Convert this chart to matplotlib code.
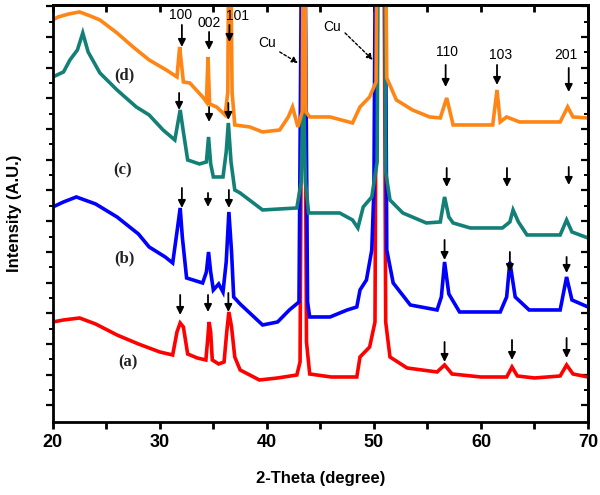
import matplotlib
matplotlib.use("Agg")
import matplotlib.pyplot as plt
from matplotlib.ticker import FixedLocator, MultipleLocator
import numpy as np

# ---- data (2-theta in degrees, intensity in arbitrary units) ----
a_pts = [(20, 100), (21, 102), (22.5, 104), (24, 98), (26, 87), (28, 78), (30, 70), (31.2, 67),
         (31.6, 90), (31.9, 99), (32.2, 95), (32.6, 68), (33.5, 64), (34.3, 62), (34.45, 80),
         (34.6, 100), (34.75, 90), (34.9, 62), (35.5, 58), (36.0, 60), (36.25, 90), (36.45, 110),
         (36.7, 95), (37.0, 65), (37.5, 52), (39.3, 42), (41, 44), (42.8, 47), (43.1, 60),
         (43.3, 500), (43.5, 500), (43.7, 80), (44.0, 48), (46, 45), (48.4, 45), (48.7, 65),
         (49.6, 75), (50.1, 100), (50.3, 600), (50.9, 600), (51.1, 100), (51.5, 65), (53.1, 54),
         (55.9, 50), (56.6, 57), (57.3, 48), (60, 45), (62.4, 45), (62.9, 55), (63.4, 46),
         (65, 44), (67.4, 46), (68.0, 57), (68.6, 48), (70, 45)]

b_pts = [(20, 215), (21, 220), (22.2, 225), (24, 218), (26, 205), (28, 188), (29, 175), (30.5, 165),
         (31.2, 159), (31.6, 190), (31.9, 214), (32.1, 185), (32.5, 144), (34.0, 139), (34.35, 150),
         (34.55, 170), (34.75, 150), (35.0, 132), (35.5, 138), (35.9, 130), (36.2, 160), (36.45, 210),
         (36.7, 170), (36.9, 125), (37.5, 118), (39.6, 97), (41, 100), (42.1, 112), (43.0, 120),
         (43.25, 500), (43.55, 500), (43.8, 120), (44, 105), (45.9, 105), (47.5, 112), (48.4, 115),
         (48.7, 132), (49.3, 142), (49.8, 172), (50.0, 232), (50.2, 600), (51.0, 600), (51.2, 172),
         (51.8, 139), (53.4, 117), (55.9, 112), (56.3, 125), (56.6, 160), (57.0, 128), (58, 110),
         (61.8, 110), (62.4, 125), (62.7, 160), (63.2, 125), (64.5, 112), (67.4, 112), (68.0, 145),
         (68.5, 122), (70, 115)]

c_pts = [(20, 345), (21, 350), (21.6, 362), (22.3, 372), (22.8, 389), (23.3, 370), (24.4, 349),
         (26, 332), (27.8, 315), (29, 307), (30.3, 292), (31.4, 282), (31.7, 300), (31.9, 312),
         (32.2, 290), (32.6, 262), (33.7, 258), (34.35, 260), (34.55, 285), (34.75, 258), (35.0, 245),
         (35.9, 245), (36.2, 270), (36.4, 299), (36.65, 260), (37.0, 232), (37.5, 229), (39.6, 212),
         (42.8, 214), (43.2, 240), (43.4, 340), (43.6, 240), (43.9, 209), (46.8, 209), (48.0, 202),
         (48.5, 194), (49.0, 215), (49.8, 225), (50.3, 260), (50.45, 600), (50.95, 600), (51.1, 250),
         (51.5, 222), (52.7, 209), (54.9, 199), (56.2, 200), (56.6, 225), (57.0, 205), (57.4, 199),
         (59, 194), (62, 194), (62.7, 200), (63.0, 212), (63.5, 200), (64.3, 187), (67.4, 187),
         (68.0, 202), (68.5, 190), (70, 184)]

d_pts = [(20, 402), (20.5, 405), (21.5, 408), (22.5, 410), (23.5, 406), (24.4, 402), (26, 389),
         (27.5, 375), (29, 362), (30.6, 352), (31.6, 345), (31.85, 375), (32.0, 360), (32.2, 340),
         (32.8, 339), (34.0, 325), (34.35, 320), (34.5, 365), (34.65, 318), (35.3, 315), (36.1, 307),
         (36.35, 330), (36.5, 600), (36.75, 330), (37.0, 297), (38.4, 295), (39.6, 290), (41.2, 292),
         (42.0, 305), (42.4, 315), (42.9, 295), (43.3, 310), (43.45, 600), (43.65, 310), (44, 305),
         (45.9, 305), (48.0, 299), (48.7, 315), (49.6, 325), (50.0, 335), (50.2, 340), (50.35, 600),
         (51.0, 600), (51.2, 344), (52.1, 322), (53.6, 312), (55.2, 305), (56.2, 304), (56.8, 324),
         (57.4, 297), (61.1, 297), (61.5, 332), (61.8, 300), (62.4, 305), (63.6, 300), (67.4, 300),
         (68.1, 315), (68.6, 305), (70, 304)]

series_names = ["(a)", "(b)", "(c)", "(d)"]
series_colors = ["#FF0000", "#0000FF", "#138077", "#FF8514"]

# arrow markers: (2-theta, tail intensity, head intensity)
arrows = [
    (32.06, 397, 375), (34.6, 390, 372), (36.5, 397, 380), (56.7, 357, 335), (61.5, 357, 337), (68.2, 354, 330),
    (31.8, 329, 312), (34.6, 315, 300), (36.4, 319, 302), (56.8, 254, 235), (62.43, 254, 235), (68.2, 255, 237),
    (32.06, 234, 214), (34.5, 229, 215), (36.45, 232, 214), (56.6, 182, 162), (62.7, 170, 150), (68.0, 165, 149),
    (31.9, 127, 107), (34.5, 127, 110), (36.4, 129, 110), (56.6, 80, 60), (62.9, 82, 62), (68.0, 84, 64),
]
hkl_labels = ["100", "002", "101", "110", "103", "201"]
hkl_pos = [(31.9, 407), (34.6, 399), (37.3, 406), (56.8, 370), (61.8, 367), (67.9, 367)]
sample_pos = [(27.0, 60), (26.7, 164), (26.5, 252), (26.7, 347)]

fig = plt.figure(figsize=(6.0, 4.95), dpi=100)
ax = fig.add_axes([0.088, 0.1475, 0.892, 0.8425])

for pts, col in zip([a_pts, b_pts, c_pts, d_pts], series_colors):
    xs = [p[0] for p in pts]
    ys = [p[1] for p in pts]
    ax.plot(xs, ys, color=col, lw=2.6, solid_joinstyle="miter")

for (x, yt, yh) in arrows:
    ax.annotate("", xy=(x, yh), xytext=(x, yt),
                arrowprops=dict(arrowstyle="-|>", color="black", lw=1.3, mutation_scale=11,
                                shrinkA=0, shrinkB=0))

for lab, (x, y) in zip(hkl_labels, hkl_pos):
    ax.text(x, y, lab, ha="center", va="center", fontsize=10, family="Liberation Sans")

for lab, (x, y) in zip(series_names, sample_pos):
    ax.text(x, y, lab, ha="center", va="center", fontsize=12, fontweight="bold",
            family="Liberation Serif", color="#222222")

# Cu labels with dotted arrows
ax.text(40.0, 379, "Cu", ha="center", va="center", fontsize=10, family="Liberation Sans")
ax.annotate("", xy=(42.9, 359), xytext=(41.2, 370),
            arrowprops=dict(arrowstyle="-|>", color="black", lw=1.0, ls=(0, (2, 1.5)),
                            mutation_scale=9, shrinkA=0, shrinkB=0))
ax.text(46.1, 395, "Cu", ha="center", va="center", fontsize=10, family="Liberation Sans")
ax.annotate("", xy=(49.9, 362), xytext=(47.3, 389),
            arrowprops=dict(arrowstyle="-|>", color="black", lw=1.0, ls=(0, (2, 1.5)),
                            mutation_scale=9, shrinkA=0, shrinkB=0))

ax.set_xlim(20, 70)
ax.set_ylim(0, 417)
ymaj = np.arange(16.6, 417, 30.7)
ymin = np.arange(31.95, 417, 30.7)
ax.xaxis.set_major_locator(MultipleLocator(10))
ax.xaxis.set_minor_locator(MultipleLocator(5))
ax.yaxis.set_major_locator(FixedLocator(ymaj))
ax.yaxis.set_minor_locator(FixedLocator(ymin))
ax.set_yticklabels([])
ax.tick_params(axis="x", which="both", direction="out", length=5, width=2,
               labelsize=13, pad=4)
ax.tick_params(axis="y", which="major", direction="out", length=5, width=1.6)
ax.tick_params(axis="y", which="minor", direction="out", length=3, width=1.4)
for lab in ax.get_xticklabels():
    lab.set_fontweight("bold")
    lab.set_family("Liberation Sans")
for s in ax.spines.values():
    s.set_linewidth(2)

# inward ticks on top and right
top = ax.secondary_xaxis("top")
top.xaxis.set_major_locator(MultipleLocator(10))
top.xaxis.set_minor_locator(MultipleLocator(5))
top.tick_params(which="both", direction="in", length=5, width=2, labeltop=False)
top.spines["top"].set_linewidth(2)
right = ax.secondary_yaxis("right")
right.yaxis.set_major_locator(FixedLocator(ymaj))
right.yaxis.set_minor_locator(FixedLocator(ymin))
right.tick_params(which="major", direction="in", length=5, width=1.6, labelright=False)
right.tick_params(which="minor", direction="in", length=3, width=1.4, labelright=False)
right.spines["right"].set_linewidth(2)

ax.set_xlabel("2-Theta (degree)", fontsize=12, fontweight="bold", family="Liberation Sans", labelpad=14)
ax.set_ylabel("Intensity (A.U.)", fontsize=12, fontweight="bold", family="Liberation Sans", labelpad=14)

fig.savefig("out.png", dpi=100)
